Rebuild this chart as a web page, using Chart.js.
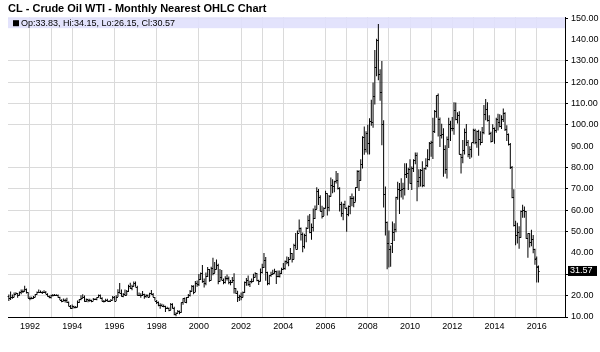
<!DOCTYPE html>
<html>
<head>
<meta charset="utf-8">
<script src="https://cdn.jsdelivr.net/npm/chart.js@4.4.1/dist/chart.umd.min.js"></script>
<style>
  html, body { margin: 0; padding: 0; background: #fff; }
</style>
</head>
<body>
<canvas id="oilChart" width="600" height="352"></canvas>
<script>
// Monthly nearest contract, first bar = Jan 1991
const startYear = 1991;

const opens = [
  20.0, 19.0, 19.3, 19.6, 21.0, 21.2, 20.2, 21.6, 22.3, 22.2, 23.2, 21.5, // 1991
  19.1, 18.9, 18.7, 19.5, 20.7, 21.7, 21.9, 21.9, 21.5, 21.9, 21.0, 20.0, // 1992
  19.5, 20.3, 20.5, 20.4, 20.3, 19.3, 18.2, 17.6, 18.2, 18.2, 16.9, 15.3, // 1993
  14.2, 15.2, 14.5, 14.7, 16.8, 18.3, 19.1, 19.6, 17.4, 18.4, 18.2, 17.8, // 1994
  17.7, 18.4, 18.5, 19.2, 20.4, 18.9, 17.4, 17.6, 17.9, 17.5, 17.6, 18.2, // 1995
  19.6, 17.7, 19.5, 21.5, 21.2, 19.8, 21.0, 20.4, 22.2, 24.4, 23.4, 24.6, // 1996
  25.9, 24.2, 20.3, 20.4, 20.2, 20.9, 19.8, 20.1, 19.6, 21.2, 21.0, 19.2, // 1997
  17.6, 17.2, 15.4, 15.6, 15.3, 15.2, 14.2, 14.1, 13.4, 16.1, 14.4, 11.2, // 1998
  12.05, 12.75, 12.3, 16.8, 18.7, 16.8, 19.3, 20.5, 22.1, 24.5, 21.75, 26.1, // 1999
  25.6, 27.6, 30.4, 26.9, 25.7, 29.0, 32.5, 27.4, 33.1, 30.8, 32.7, 34.4, // 2000
  26.8, 28.7, 27.4, 26.3, 28.5, 28.4, 26.3, 26.4, 27.2, 23.4, 21.2, 19.4, // 2001
  19.8, 19.5, 21.7, 26.3, 27.3, 25.3, 26.9, 27.0, 28.9, 30.5, 27.2, 26.9, // 2002
  31.2, 33.5, 36.6, 31.0, 25.8, 29.6, 30.2, 30.5, 31.6, 29.2, 29.1, 30.4, // 2003
  32.5, 33.1, 36.2, 35.8, 37.4, 39.9, 37.05, 43.8, 42.1, 49.6, 51.8, 49.1, // 2004
  43.45, 48.2, 51.75, 55.4, 49.7, 51.97, 56.5, 60.6, 68.9, 66.2, 59.8, 57.3, // 2005
  61.0, 67.9, 61.4, 66.6, 71.9, 71.3, 73.9, 74.4, 70.3, 62.9, 58.7, 63.1, // 2006
  61.05, 58.1, 61.8, 65.9, 65.7, 64.0, 70.7, 78.2, 74.0, 81.7, 94.5, 88.7, // 2007
  96.0, 91.75, 101.8, 101.6, 113.5, 127.35, 140.0, 124.1, 115.5, 100.6, 67.8, 54.4, // 2008
  44.6, 41.7, 44.8, 49.7, 51.1, 66.3, 69.9, 69.45, 69.96, 70.6, 77.0, 77.3, // 2009
  79.4, 72.9, 79.7, 83.8, 86.15, 73.97, 75.6, 78.95, 71.9, 79.97, 81.4, 84.1, // 2010
  91.4, 92.2, 97.0, 106.7, 113.9, 102.7, 95.4, 95.7, 88.8, 79.2, 93.2, 100.4, // 2011
  98.8, 98.5, 107.1, 103.0, 104.9, 86.5, 84.96, 88.1, 96.5, 92.2, 86.2, 88.9, // 2012
  91.8, 97.5, 92.05, 97.2, 93.5, 91.97, 96.6, 105.0, 107.65, 102.3, 96.4, 92.7, // 2013
  98.4, 97.5, 102.6, 101.6, 99.7, 102.7, 105.4, 98.2, 95.96, 91.2, 80.5, 66.15, // 2014
  53.3, 48.2, 49.8, 47.6, 59.6, 60.3, 59.5, 47.1, 49.2, 45.1, 46.6, 41.65, // 2015
  37.6, 33.83 // 2016
];

const highs = [
  20.5, 22.0, 20.6, 21.5, 21.6, 21.3, 21.9, 22.9, 22.9, 24.6, 23.4, 21.6,
  19.6, 19.5, 19.8, 20.8, 21.9, 22.9, 22.4, 22.1, 22.5, 22.2, 21.1, 20.1,
  20.4, 20.8, 20.8, 20.7, 20.6, 19.5, 18.3, 18.7, 18.6, 19.0, 17.3, 15.6,
  15.9, 15.3, 15.2, 17.7, 18.3, 20.2, 20.7, 20.1, 18.7, 18.6, 18.5, 18.1,
  18.9, 18.8, 19.2, 20.6, 20.5, 19.3, 18.0, 18.5, 18.5, 17.8, 18.4, 19.8,
  19.8, 20.2, 23.0, 25.9, 22.9, 21.3, 22.9, 22.7, 25.1, 26.0, 25.1, 26.6,
  26.6, 24.6, 21.5, 21.1, 22.2, 20.9, 20.7, 20.6, 21.4, 22.7, 21.2, 19.4,
  18.0, 17.3, 16.4, 16.2, 15.8, 15.3, 14.8, 14.4, 16.6, 16.4, 14.8, 12.2,
  13.3, 13.1, 16.8, 18.8, 19.1, 19.4, 20.8, 22.6, 25.0, 24.9, 26.9, 27.1,
  30.2, 30.9, 34.4, 28.1, 30.9, 33.4, 32.5, 33.5, 37.8, 35.8, 37.0, 35.0,
  32.5, 32.0, 28.1, 29.1, 29.9, 29.0, 27.3, 28.8, 30.5, 23.6, 22.3, 20.4,
  21.5, 22.0, 26.6, 28.3, 29.4, 27.0, 28.1, 30.3, 31.0, 30.6, 27.4, 32.7,
  35.0, 40.0, 38.1, 31.2, 29.6, 31.2, 32.2, 32.6, 31.7, 31.8, 31.8, 33.1,
  35.3, 36.5, 38.4, 38.1, 42.3, 40.0, 44.3, 49.4, 50.5, 55.7, 52.0, 49.6,
  49.0, 52.1, 57.6, 58.3, 53.8, 60.9, 62.3, 70.85, 70.0, 67.1, 62.1, 61.4,
  69.2, 68.0, 67.2, 75.35, 74.6, 73.9, 78.4, 77.5, 70.8, 64.0, 63.2, 64.5,
  61.4, 62.3, 66.7, 67.9, 66.6, 70.8, 78.8, 78.8, 83.9, 94.7, 99.3, 97.0,
  100.1, 103.1, 111.8, 119.9, 135.1, 140.4, 147.3, 126.1, 130.0, 102.2, 71.2, 54.7,
  50.5, 43.5, 54.7, 53.9, 66.3, 73.4, 72.8, 75.0, 72.9, 82.0, 82.0, 80.0,
  83.95, 80.5, 83.9, 87.15, 87.1, 79.2, 79.4, 83.0, 80.0, 84.4, 88.6, 92.0,
  92.6, 103.4, 107.0, 113.9, 114.8, 103.5, 100.6, 98.4, 90.5, 94.6, 103.4, 102.0,
  103.7, 110.6, 110.55, 106.0, 106.4, 86.5, 92.9, 98.3, 100.4, 93.0, 90.0, 91.7,
  98.2, 98.2, 97.35, 97.8, 97.0, 99.1, 109.3, 112.2, 110.7, 104.6, 96.8, 100.3,
  98.8, 103.4, 105.2, 104.99, 104.5, 107.7, 106.0, 99.9, 96.0, 91.5, 80.8, 69.9,
  55.1, 54.2, 52.5, 59.9, 62.6, 61.8, 59.7, 49.3, 49.3, 50.9, 48.4, 42.0,
  38.4, 34.15
];

const lows = [
  17.5, 18.0, 18.6, 19.3, 20.5, 19.0, 20.0, 20.7, 21.2, 22.0, 21.0, 18.8,
  17.9, 18.3, 18.6, 19.2, 20.4, 21.4, 21.3, 20.8, 21.3, 20.8, 19.6, 18.8,
  18.7, 19.6, 19.9, 19.8, 19.0, 18.0, 16.9, 17.4, 16.8, 16.6, 15.0, 13.9,
  13.9, 14.0, 14.1, 14.6, 16.6, 17.9, 18.9, 17.1, 17.0, 16.9, 17.2, 16.9,
  17.6, 18.0, 17.8, 19.1, 18.6, 17.3, 16.8, 17.2, 17.4, 17.1, 17.5, 18.1,
  17.6, 17.5, 19.4, 21.1, 19.6, 19.2, 20.0, 20.3, 21.7, 23.2, 22.5, 24.3,
  24.2, 20.2, 19.9, 19.0, 19.9, 18.6, 19.0, 19.2, 19.4, 20.4, 19.2, 17.6,
  16.1, 15.0, 13.9, 14.9, 14.6, 12.4, 13.7, 12.7, 13.2, 14.0, 10.8, 10.35,
  11.6, 11.3, 12.0, 15.7, 16.8, 16.5, 18.9, 19.6, 21.8, 20.7, 21.7, 24.2,
  24.5, 27.3, 26.0, 23.8, 24.9, 28.7, 26.5, 27.1, 29.6, 30.5, 32.3, 25.3,
  26.5, 27.2, 25.3, 25.7, 27.1, 25.3, 24.9, 25.9, 21.0, 20.9, 17.0, 17.5,
  17.9, 19.1, 21.2, 24.7, 24.7, 24.1, 25.8, 26.5, 28.5, 26.7, 25.0, 26.6,
  30.4, 33.0, 27.0, 24.9, 25.1, 28.9, 29.7, 30.4, 25.5, 28.6, 28.5, 30.2,
  32.2, 32.2, 34.7, 33.8, 37.0, 35.5, 37.0, 42.0, 41.6, 49.6, 45.8, 40.3,
  42.1, 45.0, 51.4, 49.3, 46.2, 50.1, 55.9, 60.5, 62.5, 59.6, 56.2, 57.3,
  60.8, 57.6, 59.6, 66.3, 68.0, 68.5, 72.6, 69.8, 59.5, 57.0, 55.3, 60.8,
  49.9, 57.2, 58.1, 61.9, 61.4, 64.0, 70.4, 69.0, 73.8, 79.6, 86.0, 87.1,
  86.1, 86.1, 99.6, 98.7, 109.6, 122.8, 121.0, 111.3, 90.5, 61.3, 48.25, 32.4,
  33.2, 33.55, 40.0, 45.6, 49.7, 64.9, 58.3, 66.0, 65.05, 66.9, 75.2, 69.5,
  72.4, 69.5, 78.0, 81.6, 64.2, 70.8, 71.2, 70.8, 71.0, 79.0, 80.3, 83.3,
  85.1, 84.1, 96.2, 103.4, 94.6, 89.7, 93.7, 75.7, 77.1, 74.95, 89.2, 92.5,
  97.0, 95.4, 102.2, 100.7, 86.2, 77.3, 82.0, 86.2, 90.1, 84.9, 84.05, 84.7,
  91.3, 90.9, 89.3, 85.6, 90.5, 91.5, 95.6, 102.2, 101.6, 95.3, 91.8, 92.3,
  91.2, 96.4, 97.4, 98.9, 98.1, 101.4, 97.2, 92.5, 90.4, 79.4, 65.7, 52.4,
  43.6, 44.4, 42.0, 47.1, 56.5, 56.5, 46.7, 37.75, 42.6, 43.2, 39.9, 34.5,
  26.2, 26.15
];

const closes = [
  19.0, 19.3, 19.6, 21.0, 21.2, 20.2, 21.6, 22.3, 22.2, 23.2, 21.5, 19.1,
  18.9, 18.7, 19.5, 20.7, 21.7, 21.9, 21.9, 21.5, 21.9, 21.0, 20.0, 19.5,
  20.3, 20.5, 20.4, 20.3, 19.3, 18.2, 17.6, 18.2, 18.2, 16.9, 15.3, 14.2,
  15.2, 14.5, 14.7, 16.8, 18.3, 19.1, 19.6, 17.4, 18.4, 18.2, 17.8, 17.7,
  18.4, 18.5, 19.2, 20.4, 18.9, 17.4, 17.6, 17.9, 17.5, 17.6, 18.2, 19.6,
  17.7, 19.5, 21.5, 21.2, 19.8, 21.0, 20.4, 22.2, 24.4, 23.4, 24.6, 25.9,
  24.2, 20.3, 20.4, 20.2, 20.9, 19.8, 20.1, 19.6, 21.2, 21.0, 19.2, 17.6,
  17.2, 15.4, 15.6, 15.3, 15.2, 14.2, 14.1, 13.4, 16.1, 14.4, 11.2, 12.05,
  12.75, 12.3, 16.8, 18.7, 16.8, 19.3, 20.5, 22.1, 24.5, 21.75, 26.1, 25.6,
  27.6, 30.4, 26.9, 25.7, 29.0, 32.5, 27.4, 33.1, 30.8, 32.7, 34.4, 26.8,
  28.7, 27.4, 26.3, 28.5, 28.4, 26.3, 26.4, 27.2, 23.4, 21.2, 19.4, 19.8,
  19.5, 21.7, 26.3, 27.3, 25.3, 26.9, 27.0, 28.9, 30.5, 27.2, 26.9, 31.2,
  33.5, 36.6, 31.0, 25.8, 29.6, 30.2, 30.5, 31.6, 29.2, 29.1, 30.4, 32.5,
  33.1, 36.2, 35.8, 37.4, 39.9, 37.05, 43.8, 42.1, 49.6, 51.8, 49.1, 43.45,
  48.2, 51.75, 55.4, 49.7, 51.97, 56.5, 60.6, 68.9, 66.2, 59.8, 57.3, 61.0,
  67.9, 61.4, 66.6, 71.9, 71.3, 73.9, 74.4, 70.3, 62.9, 58.7, 63.1, 61.05,
  58.1, 61.8, 65.9, 65.7, 64.0, 70.7, 78.2, 74.0, 81.7, 94.5, 88.7, 96.0,
  91.75, 101.8, 101.6, 113.5, 127.35, 140.0, 124.1, 115.5, 100.6, 67.8, 54.4, 44.6,
  41.7, 44.8, 49.7, 51.1, 66.3, 69.9, 69.45, 69.96, 70.6, 77.0, 77.3, 79.4,
  72.9, 79.7, 83.8, 86.15, 73.97, 75.6, 78.95, 71.9, 79.97, 81.4, 84.1, 91.4,
  92.2, 97.0, 106.7, 113.9, 102.7, 95.4, 95.7, 88.8, 79.2, 93.2, 100.4, 98.8,
  98.5, 107.1, 103.0, 104.9, 86.5, 84.96, 88.1, 96.5, 92.2, 86.2, 88.9, 91.8,
  97.5, 92.05, 97.2, 93.5, 91.97, 96.6, 105.0, 107.65, 102.3, 96.4, 92.7, 98.4,
  97.5, 102.6, 101.6, 99.7, 102.7, 105.4, 98.2, 95.96, 91.2, 80.5, 66.15, 53.3,
  48.2, 49.8, 47.6, 59.6, 60.3, 59.5, 47.1, 49.2, 45.1, 46.6, 41.65, 37.04,
  33.6, 31.57
];

// axis ticks
const yTicks = [10, 20, 30, 40, 50, 60, 70, 80, 90, 100, 110, 120, 130, 140, 150];
const yNoGrid = [40, 90, 140];
const xYears = [1991, 1992, 1993, 1994, 1995, 1996, 1997, 1998, 1999, 2000, 2001, 2002, 2003,
  2004, 2005, 2006, 2007, 2008, 2009, 2010, 2011, 2012, 2013, 2014, 2015, 2016, 2017];
const xNoGrid = [1991, 1995, 1997, 1999, 2001, 2005, 2017];

const legendText = 'Op:33.83, Hi:34.15, Lo:26.15, Cl:30.57';
const lastPrice = 31.57;

const gridColor = '#dadada';
const fontName = '"Liberation Sans", Arial, sans-serif';

// floating bar for each month: low -> high
const bars = highs.map((h, i) => ({ x: startYear + i / 12, y: [lows[i], h] }));

// band with the OHLC readout across the top of the plot
const readoutBand = {
  id: 'readoutBand',
  beforeDatasetsDraw(chart) {
    const { ctx, chartArea } = chart;
    ctx.save();
    ctx.fillStyle = 'rgba(224, 224, 252, 0.9)';
    ctx.fillRect(chartArea.left, chartArea.top, chartArea.right - chartArea.left, 11);
    ctx.fillStyle = '#000';
    ctx.fillRect(chartArea.left + 5, chartArea.top + 3, 6, 6);
    ctx.font = '9px ' + fontName;
    ctx.textBaseline = 'middle';
    ctx.fillText(legendText, chartArea.left + 13, chartArea.top + 6);
    ctx.restore();
  }
};

// open tick on the left, close tick on the right
const ohlcTicks = {
  id: 'ohlcTicks',
  afterDatasetsDraw(chart) {
    const { ctx, scales: { x, y } } = chart;
    ctx.save();
    ctx.strokeStyle = '#000';
    ctx.lineWidth = 1;
    ctx.beginPath();
    opens.forEach((o, i) => {
      const px = x.getPixelForValue(startYear + i / 12);
      const yo = Math.round(y.getPixelForValue(o)) + 0.5;
      const yc = Math.round(y.getPixelForValue(closes[i])) + 0.5;
      ctx.moveTo(px - 1.2, yo);
      ctx.lineTo(px, yo);
      ctx.moveTo(px, yc);
      ctx.lineTo(px + 1.2, yc);
    });
    ctx.stroke();
    ctx.restore();
  }
};

// black box with the last price on the right axis
const lastPriceTag = {
  id: 'lastPriceTag',
  afterDraw(chart) {
    const { ctx, chartArea, scales: { y } } = chart;
    const py = y.getPixelForValue(lastPrice);
    ctx.save();
    ctx.fillStyle = '#000';
    ctx.fillRect(chartArea.right + 3, py - 5, 29, 10);
    ctx.fillStyle = '#fff';
    ctx.font = '9px ' + fontName;
    ctx.textBaseline = 'middle';
    ctx.fillText(lastPrice.toFixed(2), chartArea.right + 5, py);
    ctx.restore();
  }
};

const ctx = document.getElementById('oilChart').getContext('2d');
const oilChart = new Chart(ctx, {
  type: 'bar',
  data: {
    datasets: [{
      label: 'CL',
      data: bars,
      backgroundColor: '#000',
      borderWidth: 0,
      barThickness: 1,
      inflateAmount: 0,
      grouped: false
    }]
  },
  options: {
    responsive: false,
    animation: false,
    devicePixelRatio: 1,
    layout: { padding: { left: 8, right: 0, top: 0, bottom: 0 } },
    plugins: {
      legend: { display: false },
      tooltip: { enabled: false },
      title: {
        display: true,
        text: 'CL - Crude Oil WTI - Monthly Nearest OHLC Chart',
        align: 'start',
        color: '#000',
        font: { family: fontName, size: 11, weight: 'bold', lineHeight: 1.2 },
        padding: { top: 2, bottom: 2 }
      }
    },
    scales: {
      x: {
        type: 'linear',
        min: 1990.96,
        max: 2017.34,
        offset: false,
        afterBuildTicks: (scale) => { scale.ticks = xYears.map(v => ({ value: v })); },
        afterFit: (scale) => { scale.height = 35; },
        grid: {
          offset: false,
          drawTicks: false,
          color: (c) => (c.tick && xNoGrid.includes(c.tick.value)) ? 'rgba(0,0,0,0)' : gridColor
        },
        border: { color: '#000', width: 1 },
        ticks: {
          autoSkip: false,
          maxRotation: 0,
          padding: 4,
          color: '#000',
          font: { family: fontName, size: 9 },
          callback: (v) => (v % 2 === 0 && v >= 1992 && v <= 2016) ? String(v) : ''
        }
      },
      y: {
        position: 'right',
        min: 10,
        max: 150.5,
        afterBuildTicks: (scale) => { scale.ticks = yTicks.map(v => ({ value: v })); },
        afterFit: (scale) => { scale.width = 35; },
        grid: {
          tickLength: 3,
          color: (c) => (c.tick && yNoGrid.includes(c.tick.value)) ? 'rgba(0,0,0,0)' : gridColor,
          tickColor: (c) => (c.tick && yNoGrid.includes(c.tick.value)) ? 'rgba(0,0,0,0)' : '#000'
        },
        border: { color: '#000', width: 1 },
        ticks: {
          padding: 3,
          color: '#000',
          font: { family: fontName, size: 9 },
          callback: (v) => v === 30 ? '' : v.toFixed(2)
        }
      }
    }
  },
  plugins: [readoutBand, ohlcTicks, lastPriceTag]
});
</script>
</body>
</html>
